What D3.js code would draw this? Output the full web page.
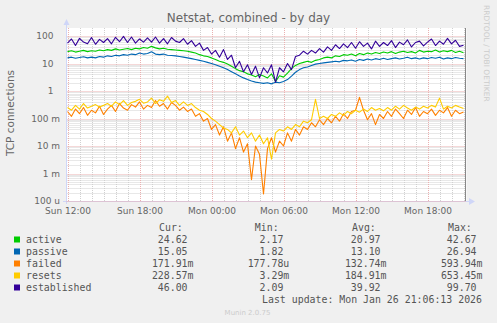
<!DOCTYPE html>
<html><head><meta charset="utf-8">
<script src="https://cdn.jsdelivr.net/npm/d3@7"></script>
<style>
html,body{margin:0;padding:0;background:#F0F0F0;}
svg{display:block;}
</style></head>
<body>
<script>
// ---------- DATA ----------
const title = "Netstat, combined - by day";
const yTitle = "TCP connections";
const seriesNames = ["active","passive","failed","resets","established"];
const seriesColors = ["#00CC00","#0066B3","#FF8000","#FFCC00","#330099"];
// samples every 20 minutes starting Sun 12:00
const startTime = new Date(2026,0,25,12,0);
const stepMinutes = 20;

const active = [27,29,26,28,30,27,29,28,31,29,
 32,30,34,31,33,35,32,36,34,38,
 36,42,37,34,36,33,32,31,30,29,
 28,26,24,21,19,18,16,14,12,11,
 9.5,8,6.5,5.5,5,4.2,3.8,3.3,4,3.5,
 3,4.2,2.2,3.6,3.2,4.5,6.5,8.5,10,11,
 12,11,13,14,16,17,16,19,18,21,
 20,22,19,23,21,24,22,25,23,26,
 24,27,23,26,28,25,27,24,30,26,
 28,27,31,26,29,27,30,25,28,24.6];

const passive = [16,17,15.5,16.5,17.5,16,17,16,18,17,
 19,18,20,19,21,20,22,21,24,22,
 23,26.9,22,21,22,20,19.5,19,18,17,
 16,15,14,13,12,11,10,9,8,7,
 6,5,4.2,3.5,3,2.6,2.3,2.1,2.0,1.9,
 2.0,1.82,2.1,2.0,2.2,2.6,3.5,4.8,6,7,
 7.5,8.5,9.5,10,10.5,11,11.5,12,11.5,13,
 12.5,13.5,12,14,13,14.5,13.5,15,14,15.5,
 14,15,16,14.5,15.5,17,15,16,14.5,16,
 15,16.5,15.5,17,14.5,16,15,16.5,15.5,15.05];

const failed = [0.18,0.12,0.22,0.15,0.25,0.13,0.2,0.16,0.28,0.14,
 0.22,0.3,0.18,0.35,0.24,0.2,0.32,0.26,0.4,0.22,
 0.3,0.25,0.45,0.28,0.35,0.22,0.38,0.3,0.2,0.26,
 0.18,0.22,0.12,0.15,0.08,0.1,0.04,0.06,0.025,0.05,
 0.015,0.03,0.008,0.02,0.006,0.012,0.0006,0.01,0.005,0.00018,
 0.008,0.02,0.006,0.015,0.01,0.03,0.015,0.04,0.025,0.05,
 0.04,0.07,0.05,0.09,0.06,0.1,0.07,0.12,0.08,0.15,
 0.1,0.18,0.2,0.59,0.2,0.09,0.15,0.06,0.14,0.1,
 0.18,0.12,0.22,0.15,0.1,0.2,0.14,0.25,0.12,0.18,
 0.15,0.22,0.13,0.2,0.16,0.25,0.12,0.2,0.15,0.172];

const resets = [0.25,0.2,0.3,0.22,0.35,0.24,0.28,0.32,0.26,0.3,
 0.35,0.28,0.4,0.32,0.45,0.3,0.38,0.42,0.5,0.36,
 0.4,0.55,0.35,0.48,0.42,0.65,0.38,0.45,0.3,0.4,
 0.3,0.35,0.25,0.2,0.18,0.14,0.1,0.08,0.06,0.045,
 0.04,0.03,0.05,0.025,0.035,0.02,0.03,0.015,0.025,0.012,
 0.02,0.0033,0.03,0.04,0.035,0.05,0.04,0.06,0.05,0.08,
 0.07,0.09,0.5,0.1,0.12,0.1,0.14,0.12,0.16,0.13,
 0.18,0.15,0.2,0.17,0.22,0.18,0.25,0.2,0.23,0.19,
 0.25,0.2,0.28,0.22,0.3,0.24,0.2,0.26,0.22,0.28,
 0.24,0.3,0.26,0.55,0.22,0.28,0.24,0.3,0.26,0.229];

const established = [55,78,45,82,60,52,88,50,75,58,
 80,52,90,62,97,58,92,55,78,60,
 85,60,92,55,80,52,88,65,58,80,
 50,68,42,55,30,38,22,30,17,32,
 14,20,7,12,5,9,4,8,3,7,
 4.5,9,2.1,7,5,10,6,18,20,28,
 22,30,24,35,26,40,30,48,35,52,
 38,58,36,62,42,55,34,65,42,58,
 45,68,38,60,48,72,40,58,65,44,
 60,78,45,65,50,82,52,70,42,46];

const curValues = ["24.62","15.05","171.91m","228.57m","46.00"];
const minValues = ["2.17","1.82","177.78u","3.29m","2.09"];
const avgValues = ["20.97","13.10","132.74m","184.91m","39.92"];
const maxValues = ["42.67","26.94","593.94m","653.45m","99.70"];
const lastUpdate = "Last update: Mon Jan 26 21:06:13 2026";

const yTickValues = [1e-4,1e-3,1e-2,1e-1,1,10,100];
const yTickLabels = ["100 u","1 m","10 m","100 m","1","10","100"];

// ---------- LAYOUT ----------
const W = 497, H = 323;
const plotL = 66.5, plotR = 466.5, plotT = 28, plotB = 201;
const series = [active, passive, failed, resets, established];

const svg = d3.select("body").append("svg").attr("width",W).attr("height",H);
svg.append("rect").attr("width",W).attr("height",H).attr("fill","#F0F0F0");

const x = d3.scaleTime()
  .domain([new Date(2026,0,25,11,55), new Date(2026,0,26,21,15)])
  .range([plotL, plotR]);
const yTop = Math.pow(10, 2 + 8/27.5);
const y = d3.scaleLog().domain([1e-4, yTop]).range([plotB, plotT]);

// canvas
svg.append("rect").attr("x",plotL).attr("y",plotT).attr("width",plotR-plotL).attr("height",plotB-plotT).attr("fill","#FFFFFF");

const grid = svg.append("g");
const minorColor = "#d0d0d0", majorColor = "#eab0b0";
// minor horizontal grid
const minorY = [];
for (let e=-4; e<=2; e++) for (let m=2; m<=9; m++) { const v = m*Math.pow(10,e); if (v < yTop) minorY.push(v); }
grid.selectAll(".hminor").data(minorY).enter().append("line")
  .attr("x1",plotL).attr("x2",plotR)
  .attr("y1",d=>Math.round(y(d))+0.5).attr("y2",d=>Math.round(y(d))+0.5)
  .attr("stroke",minorColor).attr("stroke-dasharray","1,1");
// minor vertical grid (hourly)
const hours = d3.timeHour.every(1).range(x.domain()[0], x.domain()[1]);
grid.selectAll(".vminor").data(hours.filter(h=>h.getHours()%6!==0)).enter().append("line")
  .attr("x1",d=>Math.round(x(d))+0.5).attr("x2",d=>Math.round(x(d))+0.5)
  .attr("y1",plotT).attr("y2",plotB)
  .attr("stroke",minorColor).attr("stroke-dasharray","1,1");
// major grid
grid.selectAll(".hmajor").data(yTickValues).enter().append("line")
  .attr("x1",plotL).attr("x2",plotR)
  .attr("y1",d=>Math.round(y(d))+0.5).attr("y2",d=>Math.round(y(d))+0.5)
  .attr("stroke",majorColor).attr("stroke-dasharray","1,1");
const majorX = d3.timeHour.every(6).range(x.domain()[0], x.domain()[1]);
grid.selectAll(".vmajor").data(majorX).enter().append("line")
  .attr("x1",d=>Math.round(x(d))+0.5).attr("x2",d=>Math.round(x(d))+0.5)
  .attr("y1",plotT).attr("y2",plotB)
  .attr("stroke",majorColor).attr("stroke-dasharray","1,1");

// axes lines
const axisColor = "#CFD6F8";
svg.append("line").attr("x1",66.5).attr("x2",66.5).attr("y1",24).attr("y2",plotB+3).attr("stroke",axisColor);
svg.append("line").attr("x1",63).attr("x2",470).attr("y1",plotB+0.5).attr("y2",plotB+0.5).attr("stroke",axisColor);
svg.append("path").attr("d","M63.5,25 L66.5,19 L69.5,25 Z").attr("fill",axisColor);
svg.append("path").attr("d","M469,198 L475,201.5 L469,205 Z").attr("fill",axisColor);
svg.append("line").attr("x1",plotL).attr("x2",plotR).attr("y1",plotB+0.5).attr("y2",plotB+0.5)
  .attr("stroke",majorColor).attr("stroke-dasharray","1,1");

// y axis labels
const fontSans = "DejaVu Sans, sans-serif";
const textColor = "#666666";
const yAxis = d3.axisLeft(y).tickValues(yTickValues).tickFormat((d,i)=>yTickLabels[i]).tickSize(0).tickPadding(0);
const gy = svg.append("g").attr("transform","translate(60,0)").call(yAxis);
gy.select(".domain").remove();
gy.selectAll("text").attr("font-family",fontSans).attr("font-size","9px").attr("fill",textColor)
  .attr("dy","0.33em")
  .attr("dx",(d,i)=>/[a-z]$/.test(yTickLabels[i]) ? 0 : -6.5);

// x axis labels
const xAxis = d3.axisBottom(x).ticks(d3.timeHour.every(6)).tickFormat(d3.timeFormat("%a %H:%M")).tickSize(0).tickPadding(0);
const gx = svg.append("g").attr("transform","translate(0,"+(plotB+7)+")").call(xAxis);
gx.select(".domain").remove();
gx.selectAll("text").attr("font-family",fontSans).attr("font-size","9px").attr("fill",textColor).attr("dy","0.71em");

// lines
svg.append("clipPath").attr("id","clip").append("rect")
  .attr("x",plotL).attr("y",plotT).attr("width",plotR-plotL).attr("height",plotB-plotT+1);
const timeOf = i => new Date(startTime.getTime() + i*stepMinutes*60000);
const line = d3.line().x((d,i)=>x(timeOf(i))).y(d=>y(d));
const lg = svg.append("g").attr("clip-path","url(#clip)");
series.forEach((s,k)=>{
  lg.append("path").datum(s).attr("d",line).attr("fill","none")
    .attr("stroke",seriesColors[k]).attr("stroke-width",1.1).attr("stroke-linejoin","round");
});

// now line
svg.append("line").attr("x1",465.5).attr("x2",465.5).attr("y1",plotT).attr("y2",plotB).attr("stroke","#888888");

// title
svg.append("text").attr("x",248.5).attr("y",22).attr("text-anchor","middle")
  .attr("font-family",fontSans).attr("font-size","12px").attr("fill",textColor).text(title);
// y title
svg.append("text").attr("transform","translate(14,113) rotate(-90)").attr("text-anchor","middle")
  .attr("font-family",fontSans).attr("font-size","10.5px").attr("fill",textColor).text(yTitle);
// watermark
svg.append("text").attr("transform","translate(484,5) rotate(90)").attr("text-anchor","start")
  .attr("font-family",fontSans).attr("font-size","7.5px").attr("fill","#cccccc").text("RRDTOOL / TOBI OETIKER");
svg.append("text").attr("x",247.5).attr("y",315).attr("text-anchor","middle")
  .attr("font-family",fontSans).attr("font-size","7px").attr("fill","#cccccc").text("Munin 2.0.75");

// legend
const mono = "DejaVu Sans Mono, monospace";
const cw = 5.96;
const legColor = "#555555";
const lgd = svg.append("g").attr("font-family",mono).attr("font-size","9.9px").attr("fill",legColor);
const colRight = [193.5, 289.3, 386.5, 482.5];
const headers = ["Cur:","Min:","Avg:","Max:"];
headers.forEach((h,i)=>{
  lgd.append("text").attr("x",colRight[i]-34.5).attr("y",231).text(h);
});
const cols = [curValues,minValues,avgValues,maxValues];
seriesNames.forEach((n,i)=>{
  const by = 243 + 12*i;
  lgd.append("rect").attr("x",14).attr("y",by-6.5).attr("width",6).attr("height",6).attr("fill",seriesColors[i]);
  lgd.append("text").attr("x",26).attr("y",by).text(n);
  cols.forEach((c,j)=>{
    const v = c[i];
    const hasSuffix = /[a-zA-Z]$/.test(v);
    lgd.append("text").attr("x",colRight[j] - (hasSuffix?0:cw)).attr("y",by).attr("text-anchor","end").text(v);
  });
});
lgd.append("text").attr("x",482).attr("y",303).attr("text-anchor","end").text(lastUpdate);
</script>
</body></html>
